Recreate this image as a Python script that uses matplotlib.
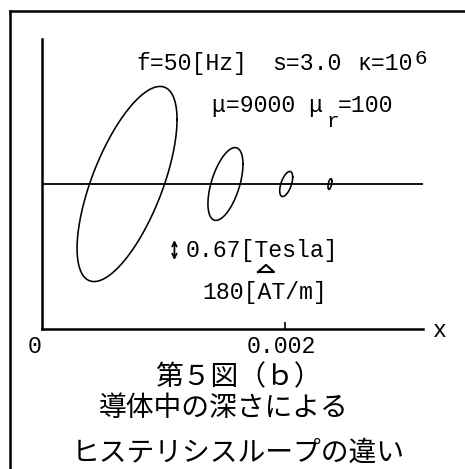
import matplotlib.pyplot as plt
import numpy as np
from matplotlib import transforms
from matplotlib.lines import Line2D

# hysteresis loops at four depths in the conductor
depth = [0.0007, 0.00151, 0.00201, 0.00237]       # [m]
h_max = [562, 197, 73, 22]                        # [AT/m]
b_max = [3.27, 1.22, 0.42, 0.18]                  # [Tesla]
phase_deg = [48.7, 57, 57, 60]                    # B lags H

# scale markers
b_scale = 0.67    # [Tesla]
h_scale = 180     # [AT/m]

x_max = 0.003136
b_lim = 4.86
h_to_x = 7.32e-7  # metres of x per AT/m when drawing a loop

W, H = 465, 469
MONO = 'Liberation Mono'
FS = 16.7
CJK = ['Noto Sans CJK JP', 'DejaVu Sans']


def fx(px):
    return px / W


def fy(py):
    return 1 - py / H


fig = plt.figure(figsize=(W / 100, H / 100), dpi=100)
ax = fig.add_axes([fx(42), fy(329), fx(423) - fx(42), fy(39) - fy(329)])
ax.set_xlim(0, x_max)
ax.set_ylim(-b_lim, b_lim)

for s in ['top', 'right']:
    ax.spines[s].set_visible(False)
for s in ['left', 'bottom']:
    ax.spines[s].set_linewidth(1.8)
ax.set_yticks([])
ax.set_xticks([0.002])
ax.set_xticklabels([])
ax.tick_params(axis='x', direction='in', length=5, width=1.2)

ax.axhline(0, color='black', lw=1.3)

t = np.linspace(0, 2 * np.pi, 400)
for x0, hm, bm, ph in zip(depth, h_max, b_max, phase_deg):
    hh = hm * np.cos(t)
    bb = bm * np.cos(t - np.radians(ph))
    ax.plot(x0 + hh * h_to_x, bb, color='black', lw=1.15)

# vertical scale arrow (flux density)
arr_x = 0.00109
arr_top = -1.88
ax.annotate('', xy=(arr_x, arr_top - b_scale), xytext=(arr_x, arr_top),
            arrowprops=dict(arrowstyle='<->', lw=1.3, color='black',
                            mutation_scale=8, shrinkA=0, shrinkB=0))

# horizontal scale triangle (field strength)
tri_x = 0.001778
tri_y = -2.95
tri_w = h_scale * h_to_x
ax.plot([tri_x, tri_x + tri_w / 2, tri_x + tri_w, tri_x],
        [tri_y, tri_y + 0.24, tri_y, tri_y], color='black', lw=1.5)

# axis labels
blend = transforms.blended_transform_factory(ax.transData, fig.transFigure)
ax.text(-0.00006, fy(353), '0', transform=blend, ha='center', va='baseline',
        family=MONO, fontsize=FS)
ax.text(0.00197, fy(353), '0.002', transform=blend, ha='center', va='baseline',
        family=MONO, fontsize=FS)
fig.text(fx(433), fy(337), 'x', ha='left', va='baseline', family=MONO, fontsize=FS)

# parameter annotations
fig.text(fx(137), fy(70), 'f=50[Hz]', va='baseline', family=MONO, fontsize=FS)
fig.text(fx(272), fy(70), 's=3.0', va='baseline', family=MONO, fontsize=FS)
fig.text(fx(357), fy(70), '\u03ba=10', va='baseline', family=MONO, fontsize=FS)
fig.text(fx(414), fy(64), '6', va='baseline', family=MONO, fontsize=15)
fig.text(fx(212), fy(112), '\u03bc=9000 \u03bc', va='baseline', family=MONO, fontsize=FS)
fig.text(fx(327), fy(127), 'r', va='baseline', family=MONO, fontsize=15)
fig.text(fx(338), fy(112), '=100', va='baseline', family=MONO, fontsize=FS)
fig.text(fx(186), fy(257), '%.2f[Tesla]' % b_scale, va='baseline', family=MONO, fontsize=FS)
fig.text(fx(202), fy(299), '%d[AT/m]' % h_scale, va='baseline', family=MONO, fontsize=FS)

# caption
fig.text(fx(155), fy(377), '第５図（ｂ）', va='center', family=CJK, fontsize=20)
fig.text(fx(99), fy(408), '導体中の深さによる', va='center', family=CJK, fontsize=20)
fig.text(fx(72), fy(453), 'ヒステリシスループの違い', va='center', family=CJK, fontsize=20)

# frame around the figure
fig.add_artist(Line2D([fx(10), fx(10)], [0, fy(11)], color='black', lw=1.8,
                      solid_capstyle='projecting'))
fig.add_artist(Line2D([fx(10), 1], [fy(11), fy(11)], color='black', lw=1.8,
                      solid_capstyle='projecting'))

fig.savefig('out.png', dpi=100)
